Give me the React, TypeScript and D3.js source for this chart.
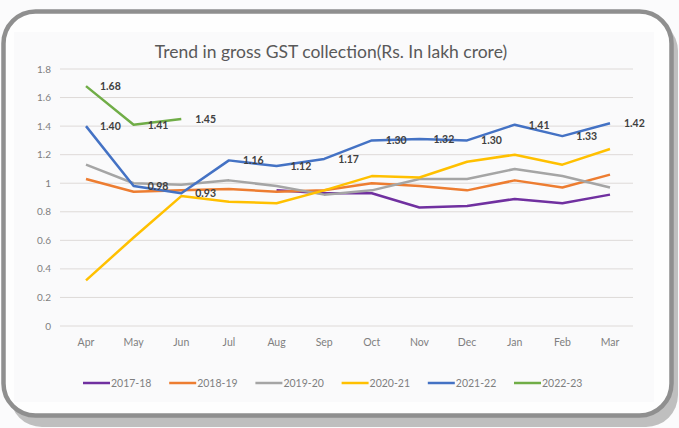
import React from "react";
import * as d3 from "d3";

const months = ["Apr", "May", "Jun", "Jul", "Aug", "Sep", "Oct", "Nov", "Dec", "Jan", "Feb", "Mar"];
const yTicks = [0, 0.2, 0.4, 0.6, 0.8, 1, 1.2, 1.4, 1.6, 1.8];

const s2017: (number | null)[] = [null, null, null, null, 0.95, 0.93, 0.93, 0.83, 0.84, 0.89, 0.86, 0.92];
const s2018: (number | null)[] = [1.03, 0.94, 0.95, 0.96, 0.94, 0.95, 1.0, 0.98, 0.95, 1.02, 0.97, 1.06];
const s2019: (number | null)[] = [1.13, 1.0, 0.99, 1.02, 0.98, 0.92, 0.95, 1.03, 1.03, 1.1, 1.05, 0.97];
const s2020: (number | null)[] = [0.32, 0.62, 0.91, 0.87, 0.86, 0.95, 1.05, 1.04, 1.15, 1.2, 1.13, 1.24];
const s2021: (number | null)[] = [1.4, 0.98, 0.93, 1.16, 1.12, 1.17, 1.3, 1.31, 1.3, 1.41, 1.33, 1.42];
const s2022: (number | null)[] = [1.68, 1.41, 1.45, null, null, null, null, null, null, null, null, null];

const seriesNames = ["2017-18", "2018-19", "2019-20", "2020-21", "2021-22", "2022-23"];
const seriesValues = [s2017, s2018, s2019, s2020, s2021, s2022];
const seriesColors = ["#7030a0", "#ed7d31", "#a5a5a5", "#ffc000", "#4472c4", "#70ad47"];
const labelText2021 = ["1.40", "0.98", "0.93", "1.16", "1.12", "1.17", "1.30", "1.32", "1.30", "1.41", "1.33", "1.42"];
const labelText2022 = ["1.68", "1.41", "1.45"];

const W = 679;
const H = 428;
const FONT = "Lato, 'Open Sans', sans-serif";

export default function App() {
  const x = d3.scalePoint<string>().domain(months).range([86, 610]);
  const y = d3.scaleLinear().domain([0, 1.8]).range([326, 69]);
  const line = d3
    .line<number | null>()
    .defined((d) => d !== null)
    .x((_, i) => x(months[i]) as number)
    .y((d) => y(d as number));

  const labels: { x: number; y: number; t: string }[] = [];
  labelText2021.forEach((t, i) => {
    const v = s2021[i] as number;
    labels.push({ x: (x(months[i]) as number) + 14, y: y(v) + 4, t });
  });
  labelText2022.forEach((t, i) => {
    const v = s2022[i] as number;
    labels.push({ x: (x(months[i]) as number) + 14, y: y(v) + 4, t });
  });

  return (
    <svg width={W} height={H} style={{ position: "absolute", left: 0, top: 0, background: "#fbfbfc" }}>
      {/* shadow */}
      <rect x={10} y={19} width={668} height={408} rx={32} fill="#bfbfbf" />
      {/* frame */}
      <rect x={3.5} y={11.5} width={668} height={404} rx={32} fill="#fefefe" stroke="#8f8f8f" strokeWidth={4.5} />
      <rect x={14} y={32} width={640} height={370} fill="#fafafb" />
      <text x={331} y={58} textAnchor="middle" fontFamily={FONT} fontSize={17.5} fill="#595959">
        Trend in gross GST collection(Rs. In lakh crore)
      </text>
      {yTicks.map((t) => (
        <g key={t}>
          <line x1={60} x2={633} y1={y(t)} y2={y(t)} stroke="#dedad8" strokeWidth={1} />
          <text x={51} y={y(t) + 3.5} textAnchor="end" fontFamily={FONT} fontSize={10} fill="#7f7f7f">
            {d3.format("~g")(t)}
          </text>
        </g>
      ))}
      {months.map((m) => (
        <text key={m} x={x(m) as number} y={346} textAnchor="middle" fontFamily={FONT} fontSize={10.5} fill="#7f7f7f">
          {m}
        </text>
      ))}
      {seriesValues.map((vals, i) => (
        <path
          key={seriesNames[i]}
          d={line(vals) || ""}
          fill="none"
          stroke={seriesColors[i]}
          strokeWidth={2.5}
          strokeLinejoin="round"
        />
      ))}
      {labels.map((l, i) => (
        <text key={i} x={l.x} y={l.y} fontFamily={FONT} fontSize={10.5} fontWeight="bold" fill="#404040">
          {l.t}
        </text>
      ))}
      {seriesNames.map((n, i) => {
        const lx = 83 + 86.2 * i;
        return (
          <g key={n}>
            <line x1={lx} x2={lx + 27} y1={383} y2={383} stroke={seriesColors[i]} strokeWidth={2.5} />
            <text x={lx + 28} y={387} fontFamily={FONT} fontSize={10.5} fill="#7f7f7f">
              {n}
            </text>
          </g>
        );
      })}
    </svg>
  );
}
